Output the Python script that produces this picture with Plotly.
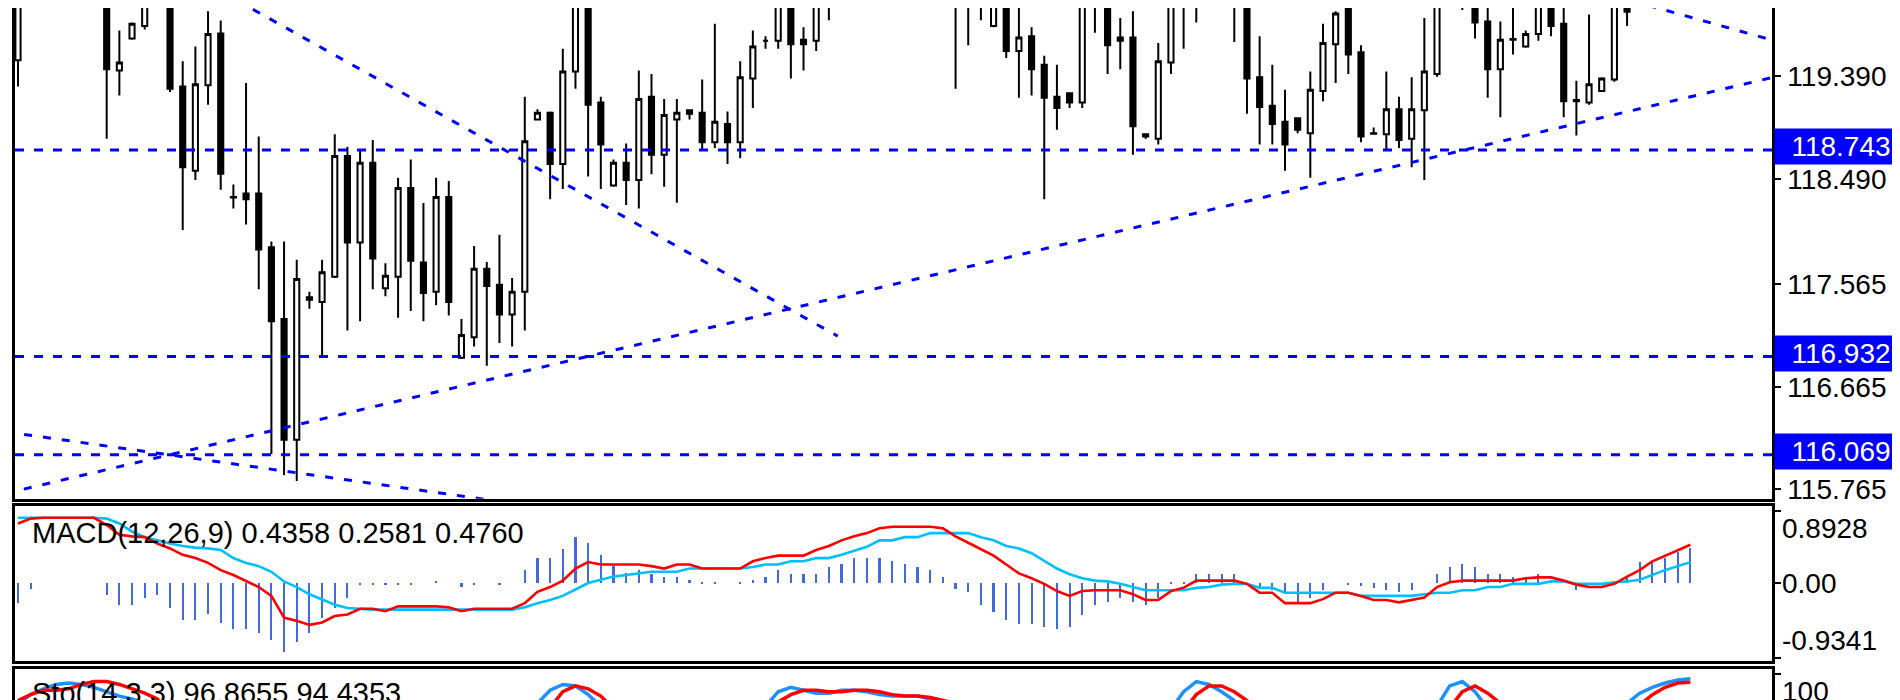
import plotly.graph_objects as go

# ---------------- data ----------------
opens = [119.53, 120.15, 120.40, 120.62, 120.45, 120.20, 120.48, 120.20, 119.44, 119.72,
         119.83, 120.15, 120.30, 119.30, 118.56, 119.31, 119.765, 118.33, 118.36, 118.36,
         117.89, 117.26, 116.20, 117.45, 117.41, 117.63, 118.69, 117.93, 118.63, 117.53,
         117.63, 118.41, 117.756, 117.50, 118.33, 116.92, 117.10, 117.70, 117.56, 117.30,
         117.50, 119.01, 119.07, 118.62, 119.43, 120.10, 119.16, 118.43, 118.63, 118.48,
         119.21, 118.70, 119.01, 119.09, 119.07, 118.81, 118.97, 118.81, 119.37, 119.70,
         119.70, 120.10, 119.71, 119.70, 120.15, 120.30, 120.55, 120.45, 120.70, 120.60,
         120.80, 120.65, 120.50, 120.35, 120.40, 120.10, 120.25, 119.83, 120.20, 119.61,
         119.74, 119.49, 119.21, 119.24, 119.16, 120.15, 120.05, 119.73, 119.73, 118.88,
         118.84, 119.51, 120.10, 120.25, 120.15, 120.35, 120.20, 120.05, 119.38, 119.13,
         118.99, 119.02, 118.89, 119.26, 119.67, 120.05, 119.60, 118.89, 118.88, 119.10,
         118.84, 119.09, 119.41, 120.10, 120.15, 120.05, 119.87, 119.45, 119.71, 119.65,
         119.76, 120.05, 119.85, 119.18, 119.16, 119.26, 119.36, 119.99, 120.02, 120.15,
         120.35, 120.50, 120.70]
highs = [120.25, 120.50, 120.75, 120.80, 120.60, 120.55, 120.58, 120.30, 119.79, 119.86,
         120.20, 120.40, 120.35, 119.52, 119.65, 119.96, 119.878, 118.44, 119.33, 118.86,
         117.94, 117.94, 117.78, 117.50, 117.78, 118.88, 118.77, 118.74, 118.83, 117.75,
         118.50, 118.66, 118.278, 118.50, 118.47, 117.26, 117.90, 117.76, 118.00, 117.62,
         119.21, 119.10, 119.08, 119.63, 120.15, 120.15, 119.21, 118.66, 118.80, 119.44,
         119.41, 119.19, 119.19, 119.09, 119.36, 119.85, 119.08, 119.52, 119.79, 119.74,
         120.20, 120.15, 119.82, 120.25, 120.45, 120.65, 120.75, 120.85, 120.90, 120.95,
         120.90, 120.80, 120.60, 120.55, 120.50, 120.35, 120.40, 120.30, 120.25, 120.05,
         119.82, 119.57, 119.49, 119.24, 120.25, 120.30, 120.15, 119.90, 119.96, 118.88,
         119.68, 120.20, 120.35, 120.40, 120.45, 120.50, 120.30, 120.10, 119.74, 119.49,
         119.27, 119.02, 119.43, 119.85, 119.96, 120.10, 119.66, 118.94, 119.43, 119.21,
         119.38, 119.90, 120.20, 120.30, 120.25, 120.12, 120.02, 119.87, 120.02, 119.79,
         120.10, 120.10, 120.05, 119.35, 119.93, 119.38, 120.10, 120.02, 120.25, 120.45,
         120.60, 120.80, 120.95]
lows = [119.30, 120.05, 120.30, 120.35, 120.10, 120.08, 120.12, 118.84, 119.22, 119.71,
        119.80, 120.05, 119.25, 118.04, 118.48, 119.14, 118.394, 118.23, 118.09, 117.52,
        116.075, 115.89, 115.84, 117.35, 116.92, 117.62, 117.16, 117.24, 117.52, 117.46,
        117.27, 117.33, 117.24, 117.38, 117.29, 116.91, 117.02, 116.85, 117.05, 117.02,
        117.16, 119.00, 118.31, 118.40, 119.28, 118.51, 118.40, 118.42, 118.26, 118.23,
        118.53, 118.42, 118.28, 119.01, 118.74, 118.76, 118.62, 118.67, 119.11, 119.63,
        119.63, 119.37, 119.44, 119.61, 119.88, 120.15, 120.30, 120.35, 120.45, 120.50,
        120.40, 120.30, 120.10, 120.05, 119.28, 119.66, 119.88, 119.82, 119.55, 119.20,
        119.22, 118.31, 118.92, 119.11, 119.11, 119.77, 119.41, 119.45, 118.70, 118.84,
        118.79, 119.41, 119.63, 119.86, 120.05, 120.08, 119.69, 119.06, 118.79, 118.79,
        118.56, 118.89, 118.50, 119.17, 119.33, 119.41, 118.81, 118.88, 118.74, 118.76,
        118.59, 118.48, 119.385, 120.02, 119.97, 119.72, 119.20, 119.03, 119.58, 119.64,
        119.70, 119.74, 119.03, 118.87, 119.14, 119.25, 119.34, 119.83, 120.00, 120.05,
        120.25, 120.40, 120.60]
closes = [120.15, 120.40, 120.62, 120.45, 120.20, 120.48, 120.20, 119.45, 119.51, 119.85,
          120.15, 120.30, 119.28, 118.59, 119.32, 119.76, 118.533, 118.325, 118.31, 117.87,
          117.24, 116.20, 117.61, 117.43, 117.67, 118.69, 117.93, 118.63, 117.79, 117.64,
          118.41, 117.77, 117.489, 118.33, 117.41, 117.12, 117.70, 117.55, 117.30, 117.50,
          118.82, 119.07, 118.62, 119.43, 120.10, 119.14, 118.79, 118.63, 118.48, 119.19,
          118.70, 119.05, 119.07, 119.06, 118.81, 118.99, 118.81, 119.38, 119.65, 119.70,
          120.10, 119.67, 119.67, 120.15, 120.30, 120.55, 120.45, 120.70, 120.60, 120.80,
          120.65, 120.50, 120.35, 120.40, 120.10, 120.25, 120.05, 120.20, 119.61, 119.73,
          119.45, 119.20, 119.11, 119.16, 120.15, 120.05, 119.66, 119.70, 118.95, 118.86,
          119.52, 120.10, 120.25, 120.15, 120.35, 120.20, 120.05, 119.37, 119.12, 118.97,
          118.79, 118.92, 119.27, 119.68, 119.94, 119.58, 118.86, 118.885, 119.10, 118.83,
          119.10, 119.43, 120.10, 120.15, 120.05, 119.86, 119.45, 119.71, 119.715, 119.76,
          120.05, 119.83, 119.17, 119.17, 119.32, 119.37, 120.05, 119.955, 120.15, 120.35,
          120.50, 120.70, 120.85]

macd_line = [0.74, 0.80, 0.81, 0.81, 0.81, 0.81, 0.81, 0.72, 0.60, 0.58, 0.57,
             0.49, 0.43, 0.35, 0.31, 0.25, 0.16, 0.10, 0.03, -0.05, -0.16,
             -0.43, -0.47, -0.52, -0.49, -0.41, -0.39, -0.32, -0.32, -0.35, -0.29,
             -0.29, -0.29, -0.29, -0.30, -0.35, -0.32, -0.32, -0.32, -0.32, -0.25,
             -0.11, -0.05, 0.03, 0.18, 0.26, 0.23, 0.23, 0.23, 0.23, 0.21,
             0.18, 0.23, 0.23, 0.18, 0.18, 0.18, 0.18, 0.27, 0.31, 0.34,
             0.34, 0.34, 0.41, 0.46, 0.53, 0.58, 0.62, 0.68, 0.70, 0.70,
             0.70, 0.70, 0.68, 0.58, 0.50, 0.42, 0.34, 0.23, 0.12, 0.06,
             -0.01, -0.10, -0.16, -0.10, -0.09, -0.09, -0.09, -0.14, -0.21, -0.21,
             -0.10, -0.06, 0.03, 0.03, 0.03, 0.03, -0.01, -0.12, -0.12, -0.25,
             -0.25, -0.25, -0.20, -0.12, -0.12, -0.16, -0.21, -0.21, -0.24, -0.21,
             -0.18, -0.05, 0.01, 0.03, 0.03, 0.03, 0.03, 0.03, 0.06, 0.07,
             0.07, 0.03, -0.02, -0.05, -0.05, -0.01, 0.08, 0.16, 0.27, 0.34,
             0.41, 0.4760]
macd_signal = [0.81, 0.81, 0.81, 0.81, 0.81, 0.81, 0.81, 0.80, 0.74, 0.64, 0.57,
               0.53, 0.49, 0.46, 0.44, 0.43, 0.41, 0.31, 0.25, 0.21, 0.14,
               0.02, -0.05, -0.14, -0.21, -0.27, -0.31, -0.32, -0.33, -0.33, -0.33,
               -0.33, -0.33, -0.33, -0.33, -0.33, -0.33, -0.33, -0.33, -0.33, -0.30,
               -0.25, -0.21, -0.16, -0.08, 0.00, 0.04, 0.08, 0.10, 0.12, 0.14,
               0.14, 0.14, 0.18, 0.18, 0.18, 0.18, 0.18, 0.20, 0.23, 0.23,
               0.27, 0.27, 0.31, 0.31, 0.35, 0.40, 0.45, 0.53, 0.53, 0.57,
               0.57, 0.62, 0.62, 0.62, 0.62, 0.57, 0.53, 0.46, 0.43, 0.37,
               0.27, 0.18, 0.11, 0.06, 0.03, 0.02, -0.01, -0.05, -0.09, -0.09,
               -0.09, -0.09, -0.06, -0.05, -0.02, -0.01, -0.01, -0.06, -0.06, -0.12,
               -0.12, -0.12, -0.12, -0.12, -0.12, -0.16, -0.16, -0.16, -0.16, -0.16,
               -0.14, -0.12, -0.12, -0.09, -0.09, -0.05, -0.05, -0.01, -0.01, -0.01,
               0.02, 0.02, -0.01, -0.01, -0.01, 0.01, 0.02, 0.04, 0.10, 0.16,
               0.21, 0.2581]
macd_hist = [-0.25, -0.07, 0, 0, 0, 0, 0, -0.14, -0.27, -0.27, -0.18,
             -0.14, -0.31, -0.46, -0.46, -0.38, -0.49, -0.57, -0.57, -0.62, -0.70,
             -0.85, -0.73, -0.62, -0.43, -0.31, -0.18, -0.02, -0.02, -0.02, -0.02,
             -0.02, 0, 0.03, 0, -0.05, -0.02, 0, -0.02, 0, 0.16,
             0.32, 0.32, 0.43, 0.58, 0.50, 0.35, 0.21, 0.13, 0.16, 0.12,
             0.08, 0.08, 0.04, 0.01, 0.01, 0, 0.01, 0.04, 0.08, 0.16,
             0.12, 0.12, 0.12, 0.20, 0.24, 0.32, 0.32, 0.32, 0.28, 0.24,
             0.20, 0.16, 0.08, -0.07, -0.11, -0.27, -0.35, -0.46, -0.50, -0.50,
             -0.54, -0.57, -0.54, -0.39, -0.27, -0.23, -0.18, -0.23, -0.27, -0.18,
             0.01, 0.01, 0.12, 0.12, 0.12, 0.12, 0, -0.04, -0.08, -0.12,
             -0.23, -0.18, -0.08, 0, -0.01, -0.03, -0.06, -0.08, -0.11, -0.08,
             0, 0.12, 0.20, 0.24, 0.20, 0.12, 0.12, 0.08, 0.08, 0.12,
             0.04, 0, -0.08, 0, 0, 0, 0.08, 0.27, 0.27, 0.32,
             0.39, 0.4358]

stoch_main = [80, 86, 90, 93, 94, 93, 91, 88, 85, 83, 80,
              74, 62, 45, 40, 48, 35, 22, 20, 12, 8,
              5, 18, 20, 24, 42, 38, 48, 44, 40, 52,
              48, 40, 50, 38, 22, 35, 33, 30, 33, 60,
              80, 89, 93, 92, 86, 78, 65, 60, 70, 65,
              68, 70, 70, 66, 72, 68, 75, 76, 78, 88,
              91, 89, 87, 87, 89, 89, 88, 86, 85, 85,
              85, 83, 78, 70, 66, 62, 60, 52, 48, 42,
              30, 25, 24, 40, 45, 42, 45, 30, 22, 60,
              76, 88, 95, 93, 88, 82, 70, 52, 40, 30,
              28, 40, 55, 68, 62, 38, 30, 35, 30, 36,
              60, 78, 92, 95, 88, 78, 65, 66, 68, 74,
              70, 48, 42, 50, 55, 70, 80, 87, 91, 94,
              96, 96.8655]
stoch_signal = [82, 86, 89, 89, 90, 93, 95, 95, 93, 90, 87,
                83, 76, 62, 50, 44, 41, 35, 26, 18, 13,
                8, 10, 14, 21, 29, 35, 43, 43, 44, 47,
                47, 47, 46, 43, 37, 32, 30, 33, 32, 41,
                58, 77, 88, 92, 90, 85, 76, 68, 65, 65,
                68, 68, 69, 69, 69, 69, 72, 73, 76, 81,
                86, 89, 89, 88, 88, 89, 89, 88, 86, 85,
                85, 84, 82, 80, 71, 66, 63, 58, 53, 47,
                40, 32, 26, 30, 36, 42, 44, 39, 32, 37,
                53, 75, 86, 92, 92, 88, 82, 70, 54, 41,
                33, 33, 41, 54, 62, 56, 43, 34, 32, 34,
                42, 58, 77, 88, 92, 87, 80, 70, 66, 69,
                71, 64, 53, 47, 49, 58, 68, 79, 86, 91,
                94, 94.4353]

bar_index = list(range(len(opens)))

price_ticks = [119.390, 118.490, 117.565, 116.665, 115.765]
level_prices = [118.743, 116.932, 116.069]
macd_ticks = [0.8928, 0.0, -0.9341]
stoch_ticks = [100]

# trend lines: start/end bar index and start/end price
trend_x0 = [-1, -1, 12, 120]
trend_x1 = [138.5, 45, 64.7, 138.4]
trend_p0 = [115.730, 116.271, 120.382, 120.280]
trend_p1 = [119.379, 115.551, 117.110, 119.708]

# ---------------- layout geometry (pixels) ----------------
W, H = 1900, 700
def px(x):
    return x / W
def py(y):
    return 1 - y / H

X_DOM = [px(7), px(1764)]
X_RANGE = [-0.237, 138.44]
MAIN_DOM = [py(495), 1.0]
MAIN_RANGE = [115.6835, 119.9878]
MACD_DOM = [py(659), py(502)]
MACD_RANGE = [-0.9729, 0.9606]
STO_DOM = [0.0, py(667)]
STO_RANGE = [80.95, 103.4]

FONT = "Liberation Sans, Arial, sans-serif"
BLUE = "#0000FF"

fig = go.Figure()

fig.add_trace(go.Candlestick(
    x=bar_index, open=opens, high=highs, low=lows, close=closes,
    increasing=dict(line=dict(color="black", width=2), fillcolor="white"),
    decreasing=dict(line=dict(color="black", width=2), fillcolor="black"),
    xaxis="x", yaxis="y", hoverinfo="skip"))

for a, b, p0, p1 in zip(trend_x0, trend_x1, trend_p0, trend_p1):
    fig.add_trace(go.Scatter(x=[a, b], y=[p0, p1], mode="lines",
                             line=dict(color=BLUE, width=3, dash="8px,11px"),
                             xaxis="x", yaxis="y", hoverinfo="skip"))

# MACD
fig.add_trace(go.Bar(x=bar_index, y=macd_hist, width=0.17,
                     marker=dict(color="#4169E1", line=dict(width=0)),
                     xaxis="x2", yaxis="y2", hoverinfo="skip"))
fig.add_trace(go.Scatter(x=bar_index, y=macd_signal, mode="lines",
                         line=dict(color="#00BFFF", width=2.6),
                         xaxis="x2", yaxis="y2", hoverinfo="skip"))
fig.add_trace(go.Scatter(x=bar_index, y=macd_line, mode="lines",
                         line=dict(color="#FF0000", width=2.6),
                         xaxis="x2", yaxis="y2", hoverinfo="skip"))

# Stochastic
fig.add_trace(go.Scatter(x=bar_index, y=stoch_main, mode="lines",
                         line=dict(color="#1E90FF", width=3.5),
                         xaxis="x3", yaxis="y3", hoverinfo="skip"))
fig.add_trace(go.Scatter(x=bar_index, y=stoch_signal, mode="lines",
                         line=dict(color="#FF0000", width=3.5),
                         xaxis="x3", yaxis="y3", hoverinfo="skip"))

shapes = []
for lv in level_prices:
    shapes.append(dict(type="line", xref="x domain", x0=0, x1=1, yref="y", y0=lv, y1=lv,
                       line=dict(color=BLUE, width=3, dash="9px,10px")))

annotations = []
for lv in level_prices:
    annotations.append(dict(xref="paper", x=1.0, xanchor="right", yref="y", y=lv,
                            yanchor="middle", yshift=3, text=f"{lv:.3f}", showarrow=False,
                            bgcolor=BLUE, width=128, height=31, borderpad=2, align="center",
                            font=dict(family=FONT, size=28, color="white")))

# MACD scale labels
annotations.append(dict(xref="paper", x=px(1772), xanchor="left", yref="y2", y=macd_ticks[0],
                        yanchor="top", text=f"{macd_ticks[0]:.4f}", showarrow=False,
                        font=dict(family=FONT, size=28, color="black")))
annotations.append(dict(xref="paper", x=px(1772), xanchor="left", yref="y2", y=macd_ticks[1],
                        yanchor="middle", text=f"{macd_ticks[1]:.2f}", showarrow=False,
                        font=dict(family=FONT, size=28, color="black")))
annotations.append(dict(xref="paper", x=px(1772), xanchor="left", yref="y2", y=macd_ticks[2],
                        yanchor="bottom", text=f"{macd_ticks[2]:.4f}", showarrow=False,
                        font=dict(family=FONT, size=28, color="black")))
annotations.append(dict(xref="paper", x=px(1772), xanchor="left", yref="y3", y=stoch_ticks[0],
                        yanchor="top", text=f"{stoch_ticks[0]}", showarrow=False,
                        font=dict(family=FONT, size=28, color="black")))

# indicator headers
annotations.append(dict(xref="paper", x=px(22), xanchor="left", yref="paper", y=py(530),
                        yanchor="middle",
                        text=f"MACD(12,26,9) {macd_hist[-1]:.4f} {macd_signal[-1]:.4f} {macd_line[-1]:.4f}",
                        showarrow=False, font=dict(family=FONT, size=29, color="black")))
annotations.append(dict(xref="paper", x=px(22), xanchor="left", yref="paper", y=py(691),
                        yanchor="middle",
                        text=f"Sto(14,3,3) {stoch_main[-1]:.4f} {stoch_signal[-1]:.4f}",
                        showarrow=False, font=dict(family=FONT, size=29, color="black")))

axis_line = dict(showline=True, linecolor="black", linewidth=2.5, showgrid=False, zeroline=False)

fig.update_layout(
    width=W, height=H, autosize=False,
    margin=dict(l=0, r=0, t=0, b=0, pad=0),
    paper_bgcolor="white", plot_bgcolor="white",
    showlegend=False, hovermode=False, boxgap=0.42, bargap=0,
    shapes=shapes, annotations=annotations,
    xaxis=dict(domain=X_DOM, range=X_RANGE, anchor="y", showticklabels=False, ticks="",
               mirror=False, rangeslider=dict(visible=False), **axis_line),
    yaxis=dict(domain=MAIN_DOM, range=MAIN_RANGE, anchor="x", side="right", mirror=True,
               tickvals=price_ticks, ticktext=[f"{v:.3f}" for v in price_ticks],
               ticks="outside", ticklen=6, tickwidth=2, tickcolor="black",
               ticklabelstandoff=1,
               tickfont=dict(family=FONT, size=28, color="black"), **axis_line),
    xaxis2=dict(domain=X_DOM, range=X_RANGE, anchor="y2", showticklabels=False, ticks="",
                mirror=True, **axis_line),
    yaxis2=dict(domain=MACD_DOM, range=MACD_RANGE, anchor="x2", side="right", mirror=True,
                tickvals=macd_ticks, showticklabels=False,
                ticks="outside", ticklen=6, tickwidth=2, tickcolor="black", **axis_line),
    xaxis3=dict(domain=X_DOM, range=X_RANGE, anchor="y3", side="top", showticklabels=False,
                ticks="", mirror=False, **axis_line),
    yaxis3=dict(domain=STO_DOM, range=STO_RANGE, anchor="x3", side="right", mirror=True,
                tickvals=stoch_ticks, showticklabels=False,
                ticks="outside", ticklen=6, tickwidth=2, tickcolor="black", **axis_line),
)

fig.write_html("out.html")
